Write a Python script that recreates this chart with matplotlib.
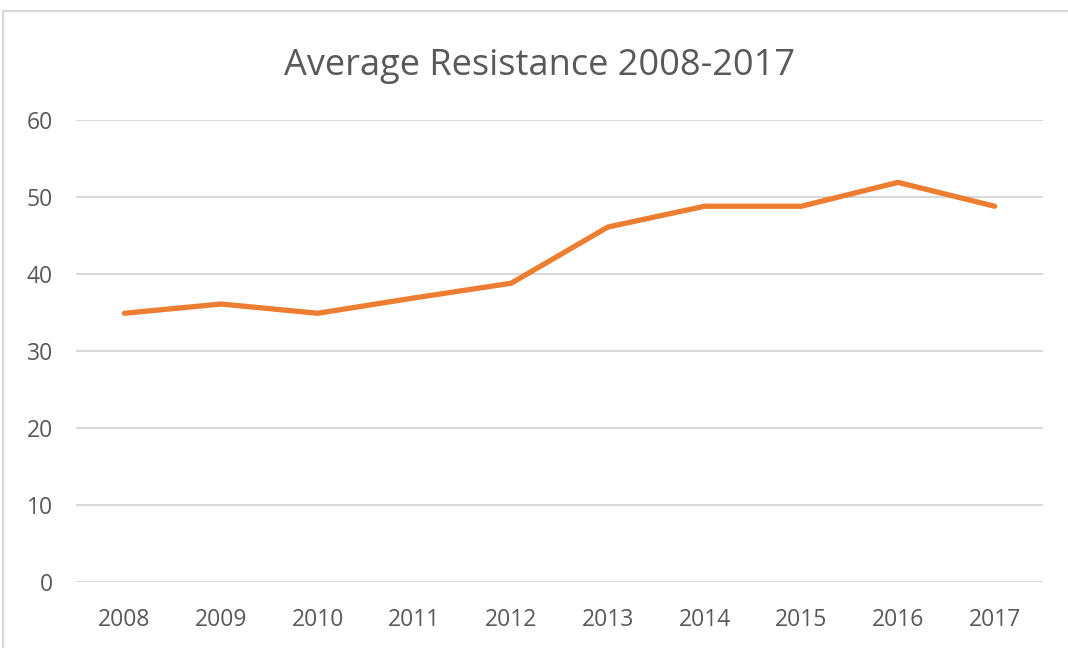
import numpy as np
import matplotlib
matplotlib.use('Agg')
import matplotlib.pyplot as plt
import matplotlib.patches as patches


plt.rc('font', family=['Open Sans', 'DejaVu Sans'])

years = ['2008', '2009', '2010', '2011', '2012', '2013', '2014', '2015', '2016', '2017']
resistance = [34.9, 36.1, 34.9, 36.9, 38.8, 46.1, 48.8, 48.8, 51.9, 48.8]
y_ticks = [0, 10, 20, 30, 40, 50, 60]


fig = plt.figure(figsize=(10.68, 6.48), dpi=100)
ax = fig.add_axes([0.0712, 0.1019, 0.9054, 0.7129])

x = np.arange(len(years))
ax.plot(x, resistance, color='#ED7D31', linewidth=3.8, solid_capstyle='round', solid_joinstyle='round', zorder=3)

ax.set_xlim(-0.5, len(years) - 0.5)
ax.set_ylim(0, 60)
ax.set_yticks(y_ticks)
ax.set_xticks(x)
ax.set_xticklabels(years)
ax.yaxis.grid(True, color='#d9d9d9', linewidth=1.5)
ax.set_axisbelow(True)
for s in ax.spines.values():
    s.set_visible(False)
ax.tick_params(axis='both', length=0, labelsize=16.5, colors='#595959')
ax.tick_params(axis='x', pad=18.5)
ax.tick_params(axis='y', pad=16.5)

fig.text(0.5056, 1 - 75 / 648, 'Average Resistance 2008-2017', ha='center', va='baseline',
         fontsize=26, color='#595959')

# chart frame (runs off the right and bottom edges)
frame = patches.Rectangle((3 / 1068, -0.05), 1.1, 1 - 11 / 648 + 0.05, transform=fig.transFigure,
                          fill=False, edgecolor='#d9d9d9', linewidth=1.6)
fig.patches.append(frame)

fig.savefig('out.png', dpi=100)
